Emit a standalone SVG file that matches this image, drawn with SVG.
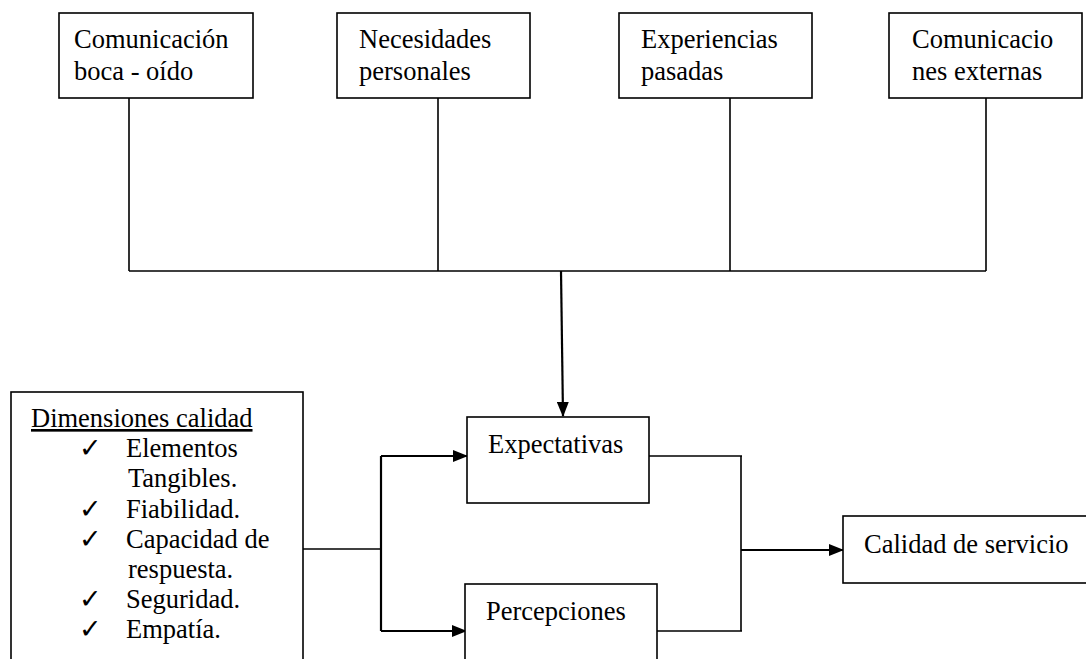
<svg xmlns="http://www.w3.org/2000/svg" width="1086" height="659" viewBox="0 0 1086 659">
<style>
.box{fill:#fff;stroke:#000;stroke-width:1.6}
.t{font-family:"Liberation Serif","Times New Roman",serif;font-size:26.5px;fill:#000}
.ck{font-family:"DejaVu Sans",sans-serif;font-size:27px;fill:#000}
.ln{fill:none;stroke:#000;stroke-width:1.6}
.ar{fill:none;stroke:#000;stroke-width:2.2}
</style>
<defs>
<marker id="ah2" markerWidth="15" markerHeight="12" refX="14" refY="6" orient="auto" markerUnits="userSpaceOnUse" viewBox="0 0 15 12">
<path d="M0,0 L15,6 L0,12 Z" fill="#000"/>
</marker>
</defs>
<rect width="1086" height="659" fill="#fff"/>
<g id="connectors">
<path class="ln" d="M129,98 V271 M438,98 V271 M730,98 V271 M986,98 V271 M129,271 H986"/>
<path class="ar" d="M561,271 L563,416" marker-end="url(#ah2)"/>
<path class="ln" d="M303,549 H381"/>
<path class="ar" d="M381,456 H467" marker-end="url(#ah2)"/>
<path class="ar" d="M381,631 H466" marker-end="url(#ah2)"/>
<path class="ar" d="M381,456 V631"/>
<path class="ln" d="M649,456 H742 M657,631 H742 M741,456 V631"/>
<path class="ar" d="M741,550 H843" marker-end="url(#ah2)"/>
</g>
<g id="n1">
<rect class="box" x="59" y="13" width="194" height="85"/>
<text class="t" x="74" y="48">Comunicación</text>
<text class="t" x="74" y="80">boca - oído</text>
</g>
<g id="n2">
<rect class="box" x="337" y="13" width="193" height="85"/>
<text class="t" x="359" y="48">Necesidades</text>
<text class="t" x="359" y="80">personales</text>
</g>
<g id="n3">
<rect class="box" x="619" y="13" width="193" height="85"/>
<text class="t" x="641" y="48">Experiencias</text>
<text class="t" x="641" y="80">pasadas</text>
</g>
<g id="n4">
<rect class="box" x="889" y="13" width="193" height="85"/>
<text class="t" x="912" y="48">Comunicacio</text>
<text class="t" x="912" y="80">nes externas</text>
</g>
<g id="dimensiones">
<rect class="box" x="11" y="392" width="292" height="290"/>
<text class="t" x="31" y="427" text-decoration="underline">Dimensiones calidad</text>
<text class="ck" x="79" y="457">✓</text>
<text class="t" x="126" y="457">Elementos</text>
<text class="t" x="128" y="487">Tangibles.</text>
<text class="ck" x="79" y="518">✓</text>
<text class="t" x="126" y="518">Fiabilidad.</text>
<text class="ck" x="79" y="548">✓</text>
<text class="t" x="126" y="548">Capacidad de</text>
<text class="t" x="128" y="578">respuesta.</text>
<text class="ck" x="79" y="608">✓</text>
<text class="t" x="126" y="608">Seguridad.</text>
<text class="ck" x="79" y="638">✓</text>
<text class="t" x="126" y="638">Empatía.</text>
</g>
<g id="expectativas">
<rect class="box" x="467" y="417" width="182" height="86"/>
<text class="t" x="488" y="453">Expectativas</text>
</g>
<g id="percepciones">
<rect class="box" x="465" y="584" width="192" height="100"/>
<text class="t" x="486" y="620">Percepciones</text>
</g>
<g id="calidad">
<rect class="box" x="843" y="516" width="250" height="67"/>
<text class="t" x="864" y="553">Calidad de servicio</text>
</g>
</svg>
